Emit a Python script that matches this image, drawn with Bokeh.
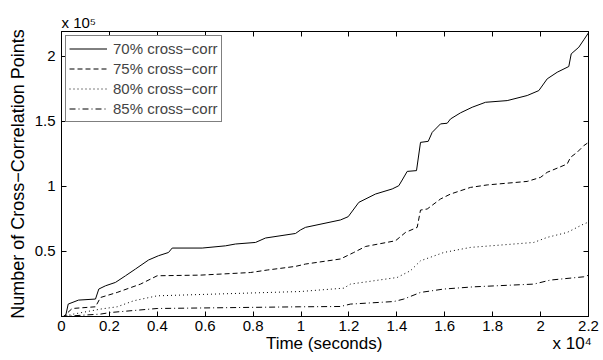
from bokeh.plotting import figure
from bokeh.models import FixedTicker, LinearAxis, Range1d, Legend, LegendItem, Title
from bokeh.embed import file_html
from bokeh.resources import INLINE

# ---- data (time in seconds, counts) ----
t70 = [0, 167, 280, 710, 1419, 1557, 1837, 2254, 2672, 3089, 3632, 4049, 4467, 4621, 5874, 6846, 7264,
       8099, 8516, 9769, 9977, 10186, 11647, 11969, 12411, 13108, 13805, 14081, 14223, 14432, 14820,
       14987, 15309, 15475, 15822, 16102, 16240, 16657, 17145, 17700, 18606, 19441, 19926, 20276,
       20694, 21178, 21278, 21595, 21804, 22000]
c70 = [0, 0, 9540, 12600, 13400, 21100, 23600, 26200, 31300, 36500, 43400, 46700, 49200, 52600, 52600,
       54300, 55700, 56900, 60300, 63800, 66500, 68500, 74200, 76700, 87700, 94100, 98000, 100500,
       104900, 111500, 112100, 133800, 134600, 141500, 148000, 148500, 151800, 156500, 160800, 164600,
       165900, 169800, 173600, 182600, 187700, 192100, 201800, 206900, 212600, 218000]

t75 = [0, 83, 447, 1419, 1628, 2325, 3298, 3995, 5803, 7890, 8587, 9769, 10186, 11647, 12202, 12691,
       13943, 14361, 14849, 14987, 15267, 15822, 16240, 17075, 17772, 19441, 19996, 20276, 21111,
       21249, 21528, 21804, 22000]
c75 = [0, 0, 6150, 7460, 14600, 18500, 24900, 31300, 31800, 33800, 35700, 38500, 40300, 44200, 49200,
       53800, 58200, 64600, 68500, 81800, 82600, 90300, 94100, 99200, 101100, 103800, 106900, 110800,
       117200, 122300, 126200, 131300, 133800]

t80 = [0, 83, 501, 1628, 2325, 3018, 3995, 9977, 11785, 12065, 14014, 14570, 14987, 15960, 17075,
       19717, 20276, 21111, 21804, 22000]
c80 = [0, 0, 1850, 5700, 7460, 12100, 15900, 19200, 21800, 24900, 30000, 35200, 42800, 49200, 53100,
       56900, 60800, 64600, 71100, 72500]

t85 = [0, 1628, 2046, 3995, 9977, 11647, 12065, 13873, 14290, 14987, 15960, 17212, 19717, 20414,
       21804, 22000]
c85 = [0, 1850, 3080, 6150, 7460, 7690, 9540, 11500, 13400, 18500, 21100, 22800, 24900, 28000,
       30500, 31700]

series_labels = ["70% cross\u2212corr", "75% cross\u2212corr", "80% cross\u2212corr", "85% cross\u2212corr"]

x_ticks = [0, 2000, 4000, 6000, 8000, 10000, 12000, 14000, 16000, 18000, 20000, 22000]
x_tick_labels = ["0", "0.2", "0.4", "0.6", "0.8", "1", "1.2", "1.4", "1.6", "1.8", "2", "2.2"]
y_ticks = [50000, 100000, 150000, 200000]
y_tick_labels = ["0.5", "1", "1.5", "2"]

x_label = "Time (seconds)"
y_label = "Number of Cross\u2212Correlation Points"
x_exponent = "x 10\u2074"
y_exponent = "x 10\u2075"

FONT = "Liberation Sans"
NB = "\u00a0"

p = figure(width=603, height=360, output_backend="svg", toolbar_location=None,
           x_range=Range1d(0, 22000), y_range=Range1d(0, 219000),
           min_border_left=61, min_border_right=15, min_border_top=31, min_border_bottom=44)
p.grid.visible = False
p.outline_line_color = "black"
p.outline_line_width = 1
p.background_fill_color = "white"
p.border_fill_color = "white"

def style_axis(ax, show_labels=True):
    ax.major_tick_in = 5
    ax.major_tick_out = 0
    ax.minor_tick_in = 0
    ax.minor_tick_out = 0
    ax.axis_line_color = "black"
    ax.major_tick_line_color = "black"
    ax.major_label_text_font = FONT
    ax.major_label_text_font_size = "15px"
    ax.major_label_text_color = "black" if show_labels else None
    ax.axis_label_text_font = FONT
    ax.axis_label_text_font_size = "17px"
    ax.axis_label_text_font_style = "normal"
    ax.axis_label_text_color = "black"

p.xaxis.ticker = FixedTicker(ticks=x_ticks)
p.xaxis.major_label_overrides = dict(zip(x_ticks, x_tick_labels))
p.yaxis.ticker = FixedTicker(ticks=y_ticks)
p.yaxis.major_label_overrides = dict(zip(y_ticks, y_tick_labels))
# x label kept centred, with the x10^4 exponent pushed to the right end of the same row
p.xaxis.axis_label = NB * 44 + x_label + NB * 36 + x_exponent
p.yaxis.axis_label = y_label
style_axis(p.xaxis[0])
style_axis(p.yaxis[0])
p.yaxis.axis_label_text_font_size = "18px"
p.xaxis.major_label_standoff = 4
p.xaxis.axis_label_standoff = 0
p.yaxis.major_label_standoff = 6
p.yaxis.axis_label_standoff = 4

top = LinearAxis(ticker=FixedTicker(ticks=x_ticks))
right = LinearAxis(ticker=FixedTicker(ticks=y_ticks))
for ax in (top, right):
    style_axis(ax, show_labels=False)
    ax.major_label_text_font_size = "0px"
    ax.major_label_standoff = 0
p.add_layout(top, "above")
p.add_layout(right, "right")

p.add_layout(Title(text=y_exponent, align="left", text_font=FONT, text_font_size="15px",
                   text_font_style="normal", text_color="black", standoff=2, offset=0), "above")

r70 = p.line(t70, c70, line_color="black", line_width=1)
r75 = p.line(t75, c75, line_color="black", line_width=1, line_dash="5 3")
r80 = p.line(t80, c80, line_color="black", line_width=1, line_dash="1 3")
r85 = p.line(t85, c85, line_color="black", line_width=1, line_dash="6 3 1 3")

legend = Legend(items=[LegendItem(label=series_labels[i], renderers=[r]) for i, r in
                       enumerate([r70, r75, r80, r85])],
                location="top_left", margin=4, padding=3, spacing=1,
                glyph_width=38, glyph_height=19, label_height=19, label_standoff=6,
                label_text_font=FONT, label_text_font_size="15px",
                border_line_color="black", border_line_width=1,
                background_fill_color="white", background_fill_alpha=1)
p.add_layout(legend)

open("out.html", "w").write(file_html(p, INLINE))
